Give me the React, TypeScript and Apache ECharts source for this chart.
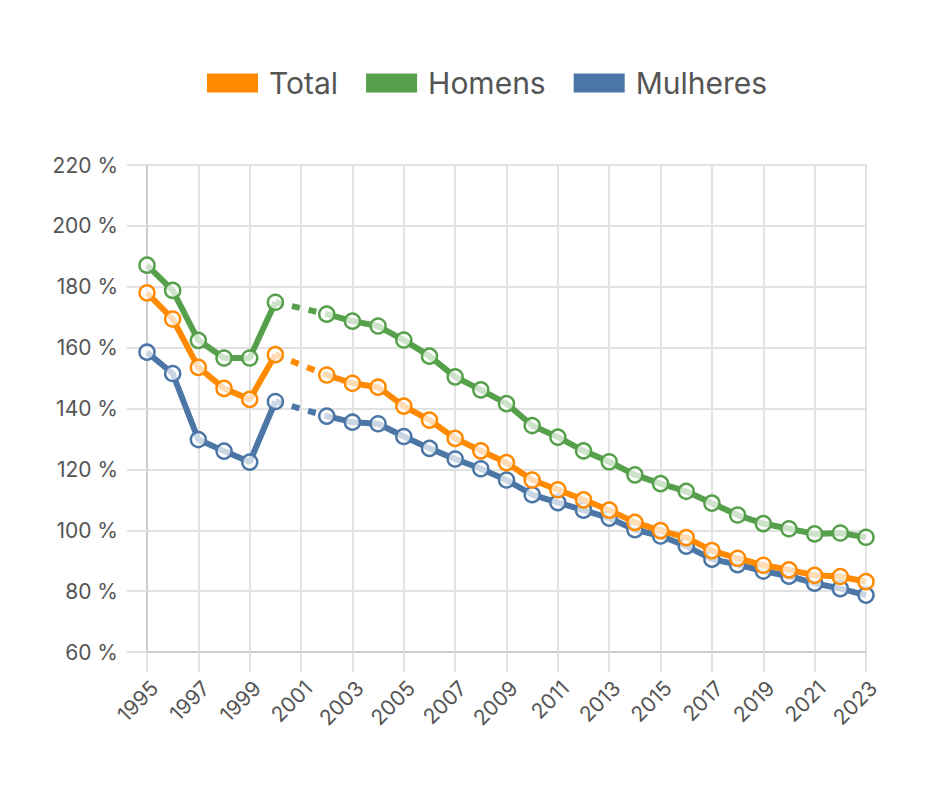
import React, { useEffect, useRef } from "react";
import * as echarts from "echarts";

const years = [
  "1995", "1996", "1997", "1998", "1999", "2000", "2001", "2002", "2003", "2004",
  "2005", "2006", "2007", "2008", "2009", "2010", "2011", "2012", "2013", "2014",
  "2015", "2016", "2017", "2018", "2019", "2020", "2021", "2022", "2023",
];

const total = [
  178.0, 169.4, 153.5, 146.6, 143.0, 157.7, null, 151.0, 148.3, 147.0,
  140.8, 136.2, 130.2, 126.1, 122.2, 116.5, 113.3, 110.0, 106.6, 102.6,
  99.9, 97.6, 93.3, 90.8, 88.5, 87.0, 85.2, 84.8, 83.1,
];

const homens = [
  187.1, 178.8, 162.4, 156.6, 156.6, 174.9, null, 171.0, 168.7, 167.1,
  162.5, 157.2, 150.4, 146.1, 141.6, 134.4, 130.6, 126.1, 122.5, 118.2,
  115.3, 112.8, 108.9, 105.0, 102.2, 100.5, 98.8, 99.1, 97.7,
];

const mulheres = [
  158.5, 151.5, 129.8, 126.0, 122.4, 142.3, null, 137.5, 135.5, 135.0,
  130.8, 126.9, 123.4, 120.2, 116.5, 111.7, 109.1, 106.6, 104.0, 100.2,
  98.1, 94.8, 90.5, 88.7, 86.6, 84.9, 82.6, 80.8, 78.7,
];

const yTicks = { min: 60, max: 220, interval: 20 };

const names = ["Total", "Homens", "Mulheres"];
const colors = ["#ff8a00", "#56a04c", "#4b76a6"];

function bridge(arr: (number | null)[]) {
  return arr.map((v, i) => (i >= 5 && i <= 7 ? v : null));
}

export default function App() {
  const ref = useRef<HTMLDivElement>(null);
  useEffect(() => {
    if (!ref.current) return;
    const chart = echarts.init(ref.current, undefined, { renderer: "svg" });
    const font = "Inter, 'Liberation Sans', Arial, sans-serif";
    const datasets = [total, homens, mulheres];
    const series: any[] = [];
    datasets.forEach((d, i) => {
      series.push({
        name: names[i],
        type: "line",
        data: d,
        connectNulls: false,
        symbol: "circle",
        symbolSize: 15,
        showAllSymbol: true,
        z: 10 - i,
        lineStyle: { color: colors[i], width: 6 },
        itemStyle: {
          color: "rgba(255,255,255,0.7)",
          borderColor: colors[i],
          borderWidth: 2.5,
        },
      });
    });
    datasets.forEach((d, i) => {
      series.push({
        name: names[i],
        type: "line",
        data: bridge(d),
        connectNulls: true,
        showSymbol: false,
        symbol: "none",
        z: 5 - i,
        lineStyle: { color: colors[i], width: 6, type: [8, 9] },
        itemStyle: { color: colors[i] },
      });
    });
    chart.setOption({
      animation: false,
      backgroundColor: "#ffffff",
      textStyle: { fontFamily: font },
      legend: {
        data: names.map((n, i) => ({ name: n, itemStyle: { color: colors[i] } })),
        left: 202,
        top: 63,
        icon: "rect",
        itemWidth: 49,
        itemHeight: 17,
        itemGap: 28,
        textStyle: { fontSize: 30, color: "#555555", fontFamily: font, padding: [0, 0, 0, 7] },
      },
      grid: { left: 147, right: 74, top: 165, bottom: 148, containLabel: false },
      xAxis: {
        type: "category",
        data: years,
        boundaryGap: false,
        axisLine: { lineStyle: { color: "#cccccc", width: 2 } },
        axisTick: { show: true, interval: 1, length: 20, lineStyle: { color: "#e2e2e2", width: 2 } },
        axisLabel: {
          interval: 1,
          rotate: 45,
          fontSize: 21,
          color: "#555555",
          margin: 25,
          verticalAlign: "top",
          fontFamily: font,
        },
        splitLine: { show: true, interval: 1, lineStyle: { color: "#e2e2e2", width: 2 } },
      },
      yAxis: {
        type: "value",
        min: yTicks.min,
        max: yTicks.max,
        interval: yTicks.interval,
        axisLine: { show: true, lineStyle: { color: "#cccccc", width: 2 } },
        axisTick: { show: true, length: 20, lineStyle: { color: "#e2e2e2", width: 2 } },
        axisLabel: {
          formatter: (v: number) => `${v} %`,
          fontSize: 21,
          color: "#555555",
          margin: 29,
          fontFamily: font,
        },
        splitLine: { show: true, lineStyle: { color: "#e2e2e2", width: 2 } },
      },
      series,
    });
    return () => chart.dispose();
  }, []);
  return (
    <div
      ref={ref}
      style={{ position: "fixed", left: 0, top: 0, width: 940, height: 800, background: "#fff" }}
    />
  );
}
